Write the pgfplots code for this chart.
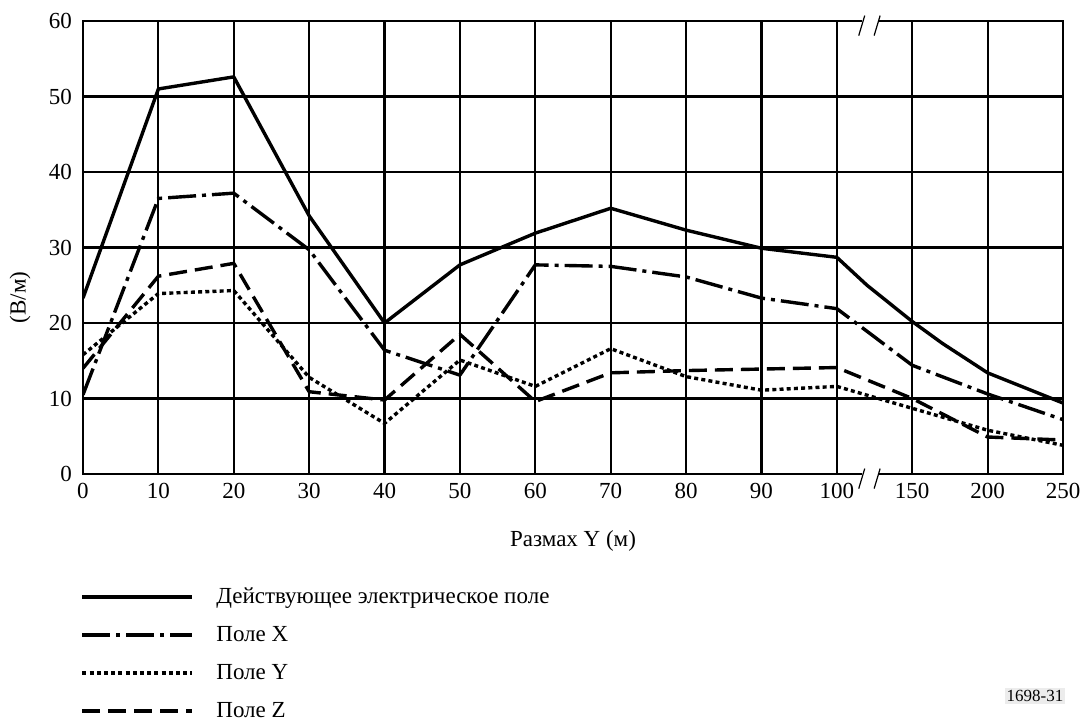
\documentclass[border=0pt]{standalone}
\usepackage{pgfplots}
\pgfplotsset{compat=1.18}
\usepackage{fontspec}
\setmainfont{Liberation Serif}

\begin{document}
\begin{tikzpicture}
\begin{axis}[
  scale only axis,
  width=490pt, height=226.5pt,
  xmin=0, xmax=13, ymin=0, ymax=60,
  xtick={0,1,2,3,4,5,6,7,8,9,10,11,12,13},
  xticklabels={0,10,20,30,40,50,60,70,80,90,100,150,200,250},
  ytick={0,10,20,30,40,50,60},
  major tick length=0pt,
  grid=major,
  major grid style={black, line width=1.1pt},
  axis line style={black, line width=1.1pt},
  tick label style={font=\fontsize{11.5}{13}\selectfont},
  /pgf/number format/assume math mode=true,
  xticklabel style={yshift=-1pt},
  yticklabel style={xshift=-2pt},
  xlabel={Размах Y (м)},
  xlabel style={font=\fontsize{11.5}{13}\selectfont, yshift=-9pt},
  ylabel={(В/м)},
  every axis y label/.style={at={(rel axis cs:0,0.39)}, xshift=-31.5pt, rotate=90, anchor=center, font=\fontsize{11.5}{13}\selectfont},
  clip mode=individual,
  legend cell align=left,
  legend style={at={(rel axis cs:0,0)}, anchor=north west, xshift=-1.5pt, yshift=-54.5pt,
    draw=none, fill=none, font=\fontsize{11.5}{13}\selectfont, row sep=6pt,
    inner xsep=0pt, inner ysep=0pt,
    /tikz/every even column/.append style={column sep=0pt}},
  legend image code/.code={\draw[#1, line width=2pt] (0pt,0pt) -- (55pt,0pt);},
  every axis plot/.append style={black, line width=1.7pt, line join=round},
]
% Действующее электрическое поле
\addplot[solid] coordinates {
 (0,23.3) (1,51.0) (2,52.6) (3,34.2) (4,20.0) (5,27.7) (6,31.9) (7,35.2)
 (8,32.3) (9,29.9) (10,28.7) (10.4,25.0) (11,20.2) (11.4,17.3) (12,13.4)
 (12.2,12.6) (13,9.4)};
% Поле X
\addplot[dash pattern=on 14pt off 3pt on 2pt off 3pt] coordinates {
 (0,10.5) (1,36.5) (2,37.2) (3,29.7) (4,16.4) (5,13.1) (6,27.7) (7,27.5)
 (8,26.1) (9,23.3) (10,21.9) (11,14.4) (12,10.6) (13,7.2)};
% Поле Y
\addplot[line cap=butt, dash pattern=on 2pt off 1.6pt] coordinates {
 (0,15.8) (1,23.9) (2,24.3) (3,12.8) (4,6.7) (5,15.1) (6,11.6) (7,16.6)
 (8,12.9) (9,11.1) (10,11.6) (11,8.7) (12,5.8) (13,3.8)};
% Поле Z
\addplot[dash pattern=on 9pt off 4pt] coordinates {
 (0,14.0) (1,26.2) (2,27.9) (3,10.9) (4,9.8) (5,18.5) (6,9.6) (7,13.4)
 (8,13.7) (9,13.9) (10,14.1) (11,10.0) (12,4.9) (13,4.5)};
\legend{\hspace{9pt}Действующее электрическое поле, \hspace{9pt}Поле X, \hspace{9pt}Поле Y, \hspace{9pt}Поле Z}
\coordinate (bt) at (axis cs:10.33,60);
\coordinate (bb) at (axis cs:10.33,0);
\coordinate (ref) at (rel axis cs:1,0);
\end{axis}
% break marks on the horizontal axis lines between 100 and 150
\foreach \p in {bt,bb}{
  \fill[white] ([yshift=-1pt]\p) rectangle ([xshift=8.2pt,yshift=1pt]\p);
  \draw[line width=0.6pt] ([xshift=-1.5pt,yshift=-7.3pt]\p) -- ([xshift=1.5pt,yshift=2.7pt]\p);
  \draw[line width=0.6pt] ([xshift=6.2pt,yshift=-7.3pt]\p) -- ([xshift=9.2pt,yshift=2.7pt]\p);
}
\node[fill=gray!15, inner sep=1pt, font=\fontsize{8.5}{10}\selectfont] at ([xshift=-14pt,yshift=-111pt]ref) {1698-31};
\pgfresetboundingbox
\path[use as bounding box] (-41.5pt,-124pt) rectangle (503.5pt,237pt);
\end{tikzpicture}
\end{document}
